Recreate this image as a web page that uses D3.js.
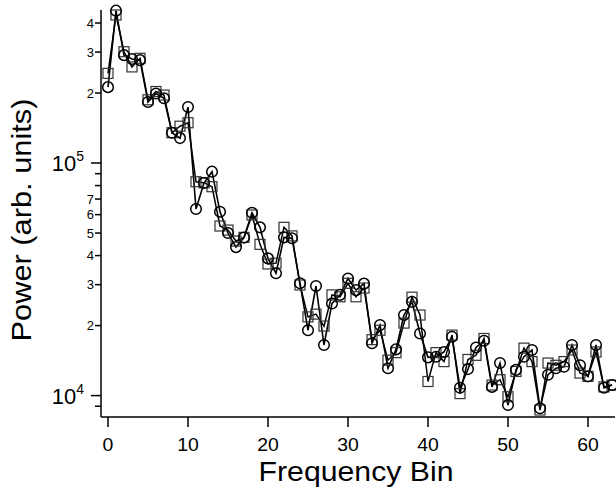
<!DOCTYPE html>
<html>
<head>
<meta charset="utf-8">
<script src="https://cdn.jsdelivr.net/npm/d3@7"></script>
<style>
  body { margin: 0; background: #fff; }
  text { font-family: "Liberation Sans", Arial, Helvetica, sans-serif; fill: #000; }
</style>
</head>
<body>
<script>
// frequency bins 0..63
const bins = [0,1,2,3,4,5,6,7,8,9,10,11,12,13,14,15,16,17,18,19,20,21,22,23,24,25,26,27,28,29,30,31,
  32,33,34,35,36,37,38,39,40,41,42,43,44,45,46,47,48,49,50,51,52,53,54,55,56,57,58,59,60,61,62,63];

// circle series
const circleVals = [2.12e5,4.52e5,2.91e5,2.80e5,2.77e5,1.83e5,1.99e5,1.90e5,1.35e5,1.28e5,1.74e5,6.34e4,
  8.20e4,9.18e4,6.17e4,5.00e4,4.35e4,4.78e4,6.11e4,5.29e4,3.89e4,3.36e4,4.79e4,4.75e4,3.04e4,1.91e4,
  2.96e4,1.65e4,2.49e4,2.71e4,3.19e4,2.84e4,3.03e4,1.68e4,2.01e4,1.31e4,1.58e4,2.22e4,2.53e4,1.85e4,
  1.46e4,1.47e4,1.54e4,1.79e4,1.08e4,1.30e4,1.61e4,1.72e4,1.09e4,1.38e4,9.11e3,1.29e4,1.47e4,1.57e4,
  8.82e3,1.23e4,1.31e4,1.33e4,1.65e4,1.35e4,1.21e4,1.65e4,1.08e4,1.11e4];

// square series
const squareVals = [2.43e5,4.33e5,3.01e5,2.59e5,2.82e5,1.87e5,2.03e5,1.96e5,1.35e5,1.44e5,1.49e5,8.31e4,
  8.23e4,7.91e4,5.36e4,5.15e4,4.62e4,4.79e4,5.98e4,4.47e4,3.68e4,3.71e4,5.29e4,4.86e4,2.99e4,2.18e4,
  2.24e4,1.99e4,2.71e4,2.66e4,3.04e4,2.66e4,2.90e4,1.74e4,1.91e4,1.42e4,1.53e4,2.05e4,2.65e4,2.22e4,
  1.15e4,1.53e4,1.40e4,1.82e4,1.02e4,1.43e4,1.49e4,1.76e4,1.11e4,1.17e4,9.89e3,1.27e4,1.60e4,1.40e4,
  8.67e3,1.38e4,1.35e4,1.40e4,1.57e4,1.25e4,1.21e4,1.54e4,1.09e4,1.11e4];

const xTicks = [0, 10, 20, 30, 40, 50, 60];
const yMajor = [1e4, 1e5];
const yMajorExp = ["4", "5"];
const yMinor = [9e3, 2e4, 3e4, 4e4, 5e4, 6e4, 7e4, 8e4, 9e4, 2e5, 3e5, 4e5];
const yMinorLabels = ["", "2", "3", "4", "5", "6", "7", "", "", "2", "3", "4"];

const w = 616, h = 495;
const margin = ({top: 10, right: 1, bottom: 78, left: 101});

const svg = d3.select("body")
  .append("svg")
  .attr("width", w)
  .attr("height", h);

let x = d3.scaleLinear()
  .domain([-0.875, 63.375])
  .range([margin.left, w - margin.right]);

let y = d3.scaleLog()
  .domain([8090, 4.55e5])
  .range([h - margin.bottom, margin.top]);

// axis lines
svg.append("line")
  .attr("x1", margin.left).attr("x2", margin.left)
  .attr("y1", margin.top).attr("y2", h - margin.bottom)
  .attr("stroke", "#000").attr("stroke-width", 1.5);
svg.append("line")
  .attr("x1", margin.left).attr("x2", w - margin.right)
  .attr("y1", h - margin.bottom).attr("y2", h - margin.bottom)
  .attr("stroke", "#000").attr("stroke-width", 1.5);

// x ticks
let xAxis = svg.append("g");
xAxis.selectAll("line")
  .data(xTicks)
  .enter().append("line")
  .attr("x1", d => x(d)).attr("x2", d => x(d))
  .attr("y1", h - margin.bottom).attr("y2", h - margin.bottom + 10)
  .attr("stroke", "#000").attr("stroke-width", 1.5);
xAxis.selectAll("text")
  .data(xTicks)
  .enter().append("text")
  .attr("transform", d => `translate(${x(d)}, ${h - margin.bottom + 34}) scale(1.08, 1)`)
  .attr("text-anchor", "middle")
  .attr("font-size", 18)
  .text(d => d);

// y ticks
let yAxis = svg.append("g");
yAxis.selectAll("line.major")
  .data(yMajor)
  .enter().append("line")
  .attr("class", "major")
  .attr("x1", margin.left - 10).attr("x2", margin.left)
  .attr("y1", d => y(d)).attr("y2", d => y(d))
  .attr("stroke", "#000").attr("stroke-width", 1.5);
yAxis.selectAll("line.minor")
  .data(yMinor)
  .enter().append("line")
  .attr("class", "minor")
  .attr("x1", margin.left - 6).attr("x2", margin.left)
  .attr("y1", d => y(d)).attr("y2", d => y(d))
  .attr("stroke", "#000").attr("stroke-width", 1.5);
yAxis.selectAll("text.minor")
  .data(yMinor)
  .enter().append("text")
  .attr("class", "minor")
  .attr("x", margin.left - 7)
  .attr("y", d => y(d) + 4.5)
  .attr("text-anchor", "end")
  .attr("font-size", 13)
  .text((d, i) => yMinorLabels[i]);
let majorLabels = yAxis.selectAll("text.major")
  .data(yMajor)
  .enter().append("text")
  .attr("class", "major")
  .attr("x", margin.left - 17)
  .attr("y", d => y(d) + 8)
  .attr("text-anchor", "end")
  .attr("font-size", 22);
majorLabels.append("tspan").text("10");
majorLabels.append("tspan")
  .attr("font-size", 14)
  .attr("dy", -10)
  .text((d, i) => yMajorExp[i]);

// axis titles
svg.append("text")
  .attr("transform", `translate(${x(31)}, ${h - 14}) scale(1.12, 1)`)
  .attr("text-anchor", "middle")
  .attr("font-size", 27)
  .text("Frequency Bin");

svg.append("text")
  .attr("transform", `translate(31, ${margin.top + 210}) rotate(-90) scale(1.14, 1)`)
  .attr("text-anchor", "middle")
  .attr("font-size", 27)
  .text("Power (arb. units)");

// lines
let line = d3.line()
  .x((d, i) => x(bins[i]))
  .y(d => y(d));

svg.append("path")
  .datum(squareVals)
  .attr("fill", "none")
  .attr("stroke", "#000")
  .attr("stroke-width", 1.5)
  .attr("d", line);

svg.append("path")
  .datum(circleVals)
  .attr("fill", "none")
  .attr("stroke", "#000")
  .attr("stroke-width", 1.6)
  .attr("d", line);

// markers
svg.selectAll("rect.sq")
  .data(squareVals)
  .enter().append("rect")
  .attr("class", "sq")
  .attr("x", (d, i) => x(bins[i]) - 5)
  .attr("y", d => y(d) - 5)
  .attr("width", 10)
  .attr("height", 10)
  .attr("fill", "none")
  .attr("stroke", "#333")
  .attr("stroke-width", 1.2);

svg.selectAll("circle.ci")
  .data(circleVals)
  .enter().append("circle")
  .attr("class", "ci")
  .attr("cx", (d, i) => x(bins[i]))
  .attr("cy", d => y(d))
  .attr("r", 5.3)
  .attr("fill", "none")
  .attr("stroke", "#000")
  .attr("stroke-width", 1.5);
</script>
</body>
</html>
